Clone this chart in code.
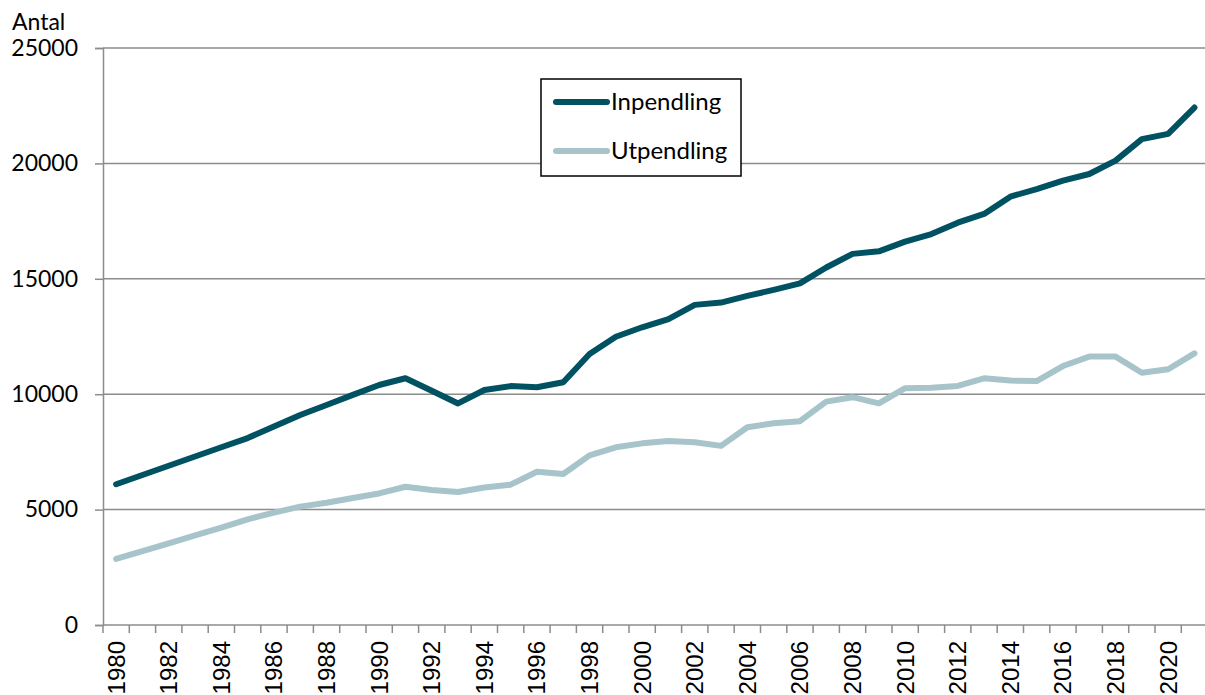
<!DOCTYPE html>
<html>
<head>
<meta charset="utf-8">
<script src="https://cdn.jsdelivr.net/npm/d3@7"></script>
<style>
  body { margin: 0; background: #fff; }
  svg { display: block; }
</style>
</head>
<body>
<div id="chart"></div>
<script>
// Data

var years = d3.range(1980, 2022)

var inpendling = [
  6100, 6500, 6900, 7300, 7700, 8100, 8600, 9100, 9530, 9970,
  10400, 10690, 10150, 9600, 10180, 10350, 10300, 10520, 11740, 12490,
  12900, 13250, 13870, 13970, 14260, 14520, 14800, 15490, 16080, 16190,
  16610, 16940, 17430, 17810, 18560, 18890, 19250, 19540, 20120, 21050,
  21280, 22420
]

var utpendling = [
  2860, 3200, 3540, 3880, 4220, 4580, 4870, 5130, 5300, 5500,
  5700, 5990, 5850, 5760, 5960, 6080, 6640, 6540, 7350, 7700,
  7870, 7970, 7920, 7760, 8570, 8740, 8830, 9680, 9870, 9600,
  10260, 10280, 10360, 10690, 10590, 10570, 11220, 11630, 11630, 10930,
  11080, 11770
]

var yTicks = [0, 5000, 10000, 15000, 20000, 25000]

var seriesNames = ['Inpendling', 'Utpendling']
var seriesColors = ['#005262', '#a7c4ca']

// Set up size

var width = 1205
var height = 695

var plotLeft = 103
var plotRight = 1207.6
var plotTop = 48
var plotBottom = 625

var svg = d3
  .select('#chart')
  .append('svg')
  .attr('width', width)
  .attr('height', height)

// Scales

var xPositionScale = d3
  .scaleBand()
  .domain(years)
  .range([plotLeft, plotRight])

var yPositionScale = d3
  .scaleLinear()
  .domain([0, 25000])
  .range([plotBottom, plotTop])

var bw = xPositionScale.bandwidth()

// Gridlines

svg
  .append('g')
  .selectAll('line')
  .data(yTicks.filter(d => d > 0))
  .enter()
  .append('line')
  .attr('x1', plotLeft)
  .attr('x2', width)
  .attr('y1', d => yPositionScale(d))
  .attr('y2', d => yPositionScale(d))
  .attr('stroke', '#8c8c8c')
  .attr('stroke-width', 1.5)

// Y axis

var yAxis = d3
  .axisLeft(yPositionScale)
  .tickValues(yTicks)
  .tickSize(8)
  .tickPadding(17)
  .tickFormat(d => d)

var yAxisG = svg
  .append('g')
  .attr('class', 'axis y-axis')
  .attr('transform', 'translate(' + plotLeft + ',0)')
  .call(yAxis)

yAxisG.select('.domain').attr('stroke', '#8c8c8c').attr('stroke-width', 1.5)
yAxisG.selectAll('.tick line').attr('stroke', '#8c8c8c').attr('stroke-width', 1.5)
yAxisG
  .selectAll('.tick text')
  .attr('font-family', 'Lato, sans-serif')
  .attr('font-size', 23)
  .attr('fill', '#000')

svg
  .append('text')
  .text('Antal')
  .attr('x', 12)
  .attr('y', 30)
  .attr('font-family', 'Lato, sans-serif')
  .attr('font-size', 23)

// X axis: baseline, ticks at category boundaries, labels every other year

svg
  .append('line')
  .attr('x1', plotLeft)
  .attr('x2', width)
  .attr('y1', plotBottom)
  .attr('y2', plotBottom)
  .attr('stroke', '#8c8c8c')
  .attr('stroke-width', 1.5)

svg
  .append('g')
  .selectAll('line')
  .data(years)
  .enter()
  .append('line')
  .attr('x1', d => xPositionScale(d))
  .attr('x2', d => xPositionScale(d))
  .attr('y1', plotBottom)
  .attr('y2', plotBottom + 8)
  .attr('stroke', '#8c8c8c')
  .attr('stroke-width', 1.5)

svg
  .append('g')
  .selectAll('text')
  .data(years.filter(d => d % 2 === 0))
  .enter()
  .append('text')
  .text(d => d)
  .attr('transform', d => {
    var x = xPositionScale(d) + bw / 2
    return 'translate(' + x + ',' + (plotBottom + 16) + ') rotate(-90)'
  })
  .attr('dy', '0.35em')
  .attr('text-anchor', 'end')
  .attr('font-family', 'Liberation Sans, Arial, sans-serif')
  .attr('font-size', 24)
  .attr('fill', '#000')

// Lines

var allSeries = [inpendling, utpendling]

var line = d3
  .line()
  .x((d, i) => xPositionScale(years[i]) + bw / 2)
  .y(d => yPositionScale(d))

svg
  .append('g')
  .selectAll('path')
  .data(allSeries.slice().reverse())
  .enter()
  .append('path')
  .attr('d', line)
  .attr('fill', 'none')
  .attr('stroke', (d, i) => seriesColors.slice().reverse()[i])
  .attr('stroke-width', 6)
  .attr('stroke-linejoin', 'round')
  .attr('stroke-linecap', 'round')

// Legend

var legend = svg.append('g').attr('transform', 'translate(541,79)')

legend
  .append('rect')
  .attr('width', 200)
  .attr('height', 97)
  .attr('fill', '#fff')
  .attr('stroke', '#000')
  .attr('stroke-width', 1.5)

seriesNames.forEach((name, i) => {
  var ly = 23 + i * 49
  legend
    .append('line')
    .attr('x1', 15)
    .attr('x2', 66)
    .attr('y1', ly)
    .attr('y2', ly)
    .attr('stroke', seriesColors[i])
    .attr('stroke-width', 6)
    .attr('stroke-linecap', 'round')
  legend
    .append('text')
    .text(name)
    .attr('x', 70)
    .attr('y', ly)
    .attr('dy', '0.35em')
    .attr('font-family', 'Lato, sans-serif')
    .attr('font-size', 24)
})
</script>
</body>
</html>
